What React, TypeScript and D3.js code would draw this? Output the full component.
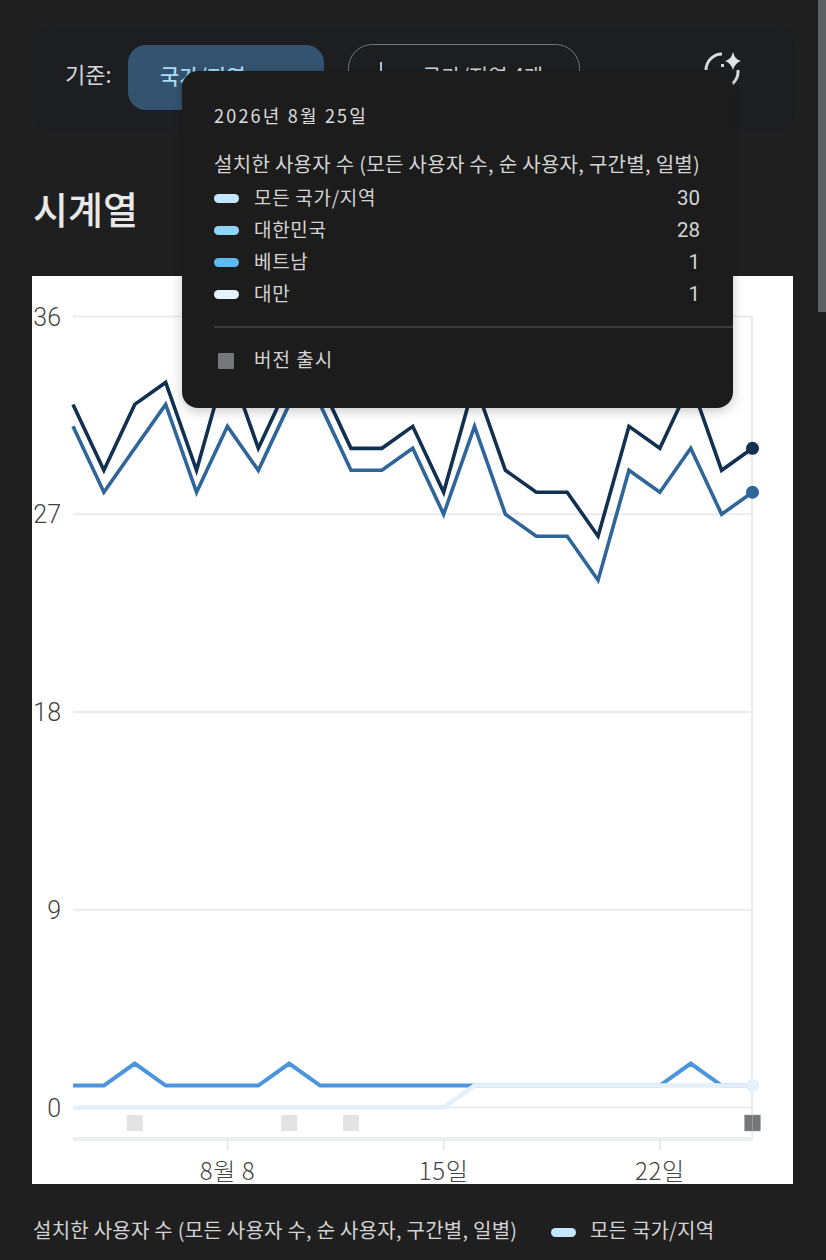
import React from "react";
import * as d3 from "d3";

const days = d3.range(3, 26);
const allRegions = [32, 29, 32, 33, 29, 34, 30, 33, 33, 30, 30, 31, 28, 33, 29, 28, 28, 26, 31, 30, 33, 29, 30];
const korea = [31, 28, 30, 32, 28, 31, 29, 32, 32, 29, 29, 30, 27, 31, 27, 26, 26, 24, 29, 28, 30, 27, 28];
const vietnam = [1, 1, 2, 1, 1, 1, 1, 2, 1, 1, 1, 1, 1, 1, 1, 1, 1, 1, 1, 1, 2, 1, 1];
const taiwan = [0, 0, 0, 0, 0, 0, 0, 0, 0, 0, 0, 0, 0, 1, 1, 1, 1, 1, 1, 1, 1, 1, 1];
const yTicks = [0, 9, 18, 27, 36];
const xTicks = [
  { day: 8, label: "8월 8" },
  { day: 15, label: "15일" },
  { day: 22, label: "22일" },
];
const releaseDays = [5, 10, 12];
const latestReleaseOffsets = [-4, 4];

const tooltipRows = [
  { name: "모든 국가/지역", value: "30", color: "#c2e7ff" },
  { name: "대한민국", value: "28", color: "#8fd3fa" },
  { name: "베트남", value: "1", color: "#5bbcf2" },
  { name: "대만", value: "1", color: "#e3f3ff" },
];

const metricLabel = "설치한 사용자 수 (모든 사용자 수, 순 사용자, 구간별, 일별)";
const font = '"Noto Sans CJK KR", "Noto Sans", sans-serif';
const numFont = 'Roboto, "Noto Sans CJK KR", sans-serif';

const x = d3.scaleLinear().domain([3, 25]).range([73, 752.5]);
const y = d3.scaleLinear().domain([0, 36]).range([1107.5, 316.5]);
const line = d3
  .line<number>()
  .x((_, i) => x(days[i]))
  .y((d) => y(d))
  .curve(d3.curveLinear);

const seriesDraw = [
  { values: allRegions, color: "#12304f", width: 3.6, dot: true },
  { values: korea, color: "#2f6599", width: 3.6, dot: true },
  { values: vietnam, color: "#4a95dd", width: 4, dot: false },
  { values: taiwan, color: "#e4f0fa", width: 4.6, dot: true },
];

export default function App() {
  return (
    <svg
      width={826}
      height={1260}
      style={{ position: "fixed", left: 0, top: 0, display: "block" }}
      fontFamily={font}
    >
      <defs>
        <filter id="ts" x="-10%" y="-10%" width="120%" height="125%">
          <feDropShadow dx="0" dy="3" stdDeviation="6" floodColor="#000" floodOpacity="0.22" />
        </filter>
      </defs>
      <rect width={826} height={1260} fill="#1f1f1f" />
      <rect x={818} y={0} width={8} height={312} fill="#5f6063" />

      {/* filter bar */}
      <rect x={32} y={26} width={762} height={104} rx={18} fill="#1c1e21" />
      <text x={65} y={83} fontSize={22} fill="#d6d7d9">기준:</text>
      <rect x={128} y={45} width={196} height={65} rx={18} fill="#33536f" />
      <text x={160} y={84} fontSize={21} fontWeight={500} fill="#a8dcfb">국가/지역</text>
      <rect x={348.5} y={44.5} width={231} height={66} rx={24} fill="none" stroke="#74777b" strokeWidth={1} />
      <rect x={380} y={62} width={2} height={22} fill="#a8c7e6" />
      <text x={422} y={84} fontSize={21} fill="#d6d7d9">국가/지역 4개</text>
      <g fill="none" stroke="#d9dadc" strokeWidth={3}>
        <path d="M706 70 A16 16 0 0 1 722 54" />
        <path d="M738 70 A16 16 0 0 1 732 84" />
      </g>
      <path d="M733 52 Q735 60 741 61 Q735 63 733 70 Q731 63 725 61 Q731 60 733 52Z" fill="#e3e3e3" />
      <rect x={721} y={64} width={3} height={3} fill="#d9dadc" />

      <text x={33} y={224} fontSize={38} fontWeight={500} fill="#e8e8e8">시계열</text>

      {/* chart */}
      <rect x={32} y={276} width={761} height={908} fill="#fff" />
      {yTicks.map((t) => (
        <g key={t}>
          <line x1={73} x2={752} y1={y(t)} y2={y(t)} stroke="#e9ebee" strokeWidth={2} />
          <text x={61} y={y(t) + 9} fontSize={25} textAnchor="end" fill="#444" fontFamily={numFont} fontWeight={300}>{t}</text>
        </g>
      ))}
      <line x1={752} x2={752} y1={316} y2={1140} stroke="#e9ebee" strokeWidth={2} />
      <line x1={73} x2={753} y1={1139} y2={1139} stroke="#eceef2" strokeWidth={4} />
      {xTicks.map((t) => (
        <g key={t.day}>
          <line x1={x(t.day)} x2={x(t.day)} y1={1139} y2={1150} stroke="#e7e9ef" strokeWidth={2} />
          <text x={x(t.day)} y={1180} fontSize={24} fontWeight={300} letterSpacing={0.6} textAnchor="middle" fill="#444">{t.label}</text>
        </g>
      ))}
      {releaseDays.map((d) => (
        <rect key={d} x={x(d) - 8} y={1115} width={16} height={16} fill="#e3e3e3" />
      ))}
      {latestReleaseOffsets.map((o) => (
        <rect key={o} x={x(25) + o - 4} y={1115} width={8} height={16} fill="#75767a" stroke="#a2a3a6" strokeWidth={0.5} />
      ))}

      {seriesDraw.map((s, i) => (
        <g key={i}>
          <path d={line(s.values) ?? ""} fill="none" stroke={s.color} strokeWidth={s.width} strokeLinejoin="miter" />
          {s.dot && (
            <circle cx={x(25)} cy={y(s.values[s.values.length - 1])} r={6.5} fill={s.color} />
          )}
        </g>
      ))}

      {/* tooltip */}
      <rect x={182} y={71} width={551} height={337} rx={16} fill="#1f1f1f" filter="url(#ts)" />
      <text x={214} y={123} fontSize={18} fill="#dcdcdc" letterSpacing={2.2}>2026년 8월 25일</text>
      <text x={214} y={172} fontSize={20} letterSpacing={0.3} fill="#d4d4d4">{metricLabel}</text>
      {tooltipRows.map((r, i) => (
        <g key={r.name}>
          <rect x={214} y={194 + i * 32} width={25} height={9} rx={4.5} fill={r.color} />
          <text x={254} y={205 + i * 32} fontSize={19} letterSpacing={0.7} fill="#d4d4d4">{r.name}</text>
          <text x={700} y={205 + i * 32} fontSize={20.5} textAnchor="end" fill="#d4d4d4" fontFamily={numFont}>{r.value}</text>
        </g>
      ))}
      <line x1={214} x2={733} y1={327} y2={327} stroke="#5c5c5c" strokeWidth={1.2} />
      <rect x={218} y={353} width={16} height={16} rx={1} fill="#75767a" />
      <text x={254} y={367} fontSize={19} letterSpacing={1} fill="#d4d4d4">버전 출시</text>

      {/* legend */}
      <text x={33} y={1238} fontSize={20} letterSpacing={0.25} fill="#d4d4d4">{metricLabel}</text>
      <rect x={551} y={1228} width={25} height={9} rx={4.5} fill="#c2e7ff" />
      <text x={590} y={1238} fontSize={20} letterSpacing={0.2} fill="#d4d4d4">모든 국가/지역</text>
    </svg>
  );
}
